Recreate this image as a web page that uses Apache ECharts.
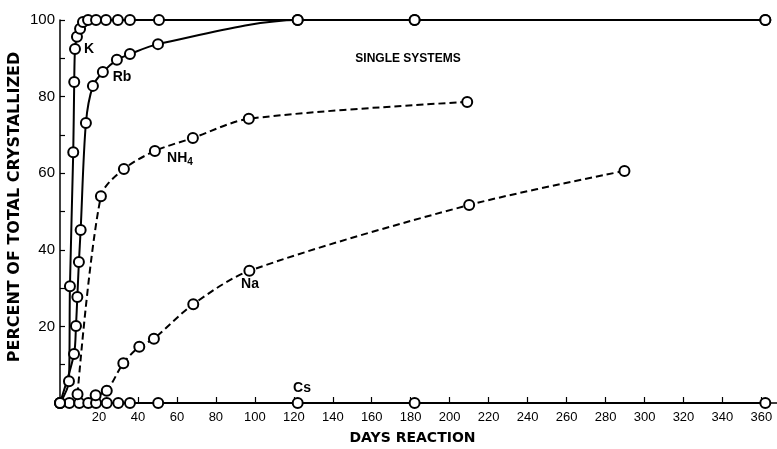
<!DOCTYPE html>
<html>
<head>
<meta charset="utf-8">
<script src="https://cdn.jsdelivr.net/npm/echarts@6/dist/echarts.min.js"></script>
<style>
  html, body { margin: 0; padding: 0; background: #fff; }
  #chart { width: 777px; height: 449px; }
</style>
</head>
<body>
<div id="chart"></div>
<script>
// 数据：读自原图（天数 / 结晶百分比）
const kDays = [0, 4.6, 5.1, 6.8, 7.3, 7.7, 8.7, 10.3, 11.8, 14.4, 18.5, 23.6, 29.7, 35.9, 50.8, 122, 182, 362];
const kPct = [0, 5.7, 30.5, 65.5, 83.8, 92.4, 95.6, 97.7, 99.5, 100, 100, 100, 100, 100, 100, 100, 100, 100];

// Rb 在 122 天后与 K 重合（圆点重叠）
const rbDays = [0, 7.2, 8.2, 8.9, 9.7, 10.6, 13.3, 16.9, 22, 29.2, 35.9, 50.3, 122, 182, 362];
const rbPct = [0, 12.8, 20.1, 27.7, 36.8, 45.2, 73.1, 82.8, 86.4, 89.6, 91.1, 93.7, 100, 100, 100];

const nh4Days = [9, 21, 32.8, 48.7, 68.2, 96.9, 209];
const nh4Pct = [2.3, 54, 61.1, 65.8, 69.2, 74.2, 78.6];

const naDays = [18.3, 24, 32.5, 40.7, 48.2, 68.4, 97.2, 210, 289.7];
const naPct = [2, 3.2, 10.4, 14.7, 16.8, 25.8, 34.5, 51.7, 60.6];

const csDays = [0, 4.8, 9.9, 14.5, 18.5, 24, 29.9, 35.9, 50.4, 122, 182, 362];
const csPct = [0, 0, 0, 0, 0, 0, 0, 0, 0, 0, 0, 0];

const FONT = '"Liberation Sans", Arial, sans-serif';
const NAME_FONT = '"DejaVu Sans", "Liberation Sans", sans-serif';

function pairs(xs, ys) {
    return xs.map((x, i) => [x, ys[i]]);
}

function makeSeries(name, xs, ys, dashed) {
    return {
        name: name,
        type: 'line',
        data: pairs(xs, ys),
        smooth: 0.3,
        symbol: 'emptyCircle',
        symbolSize: 10,
        lineStyle: {
            color: '#000',
            width: 2,
            type: dashed ? [7, 4] : 'solid'
        },
        itemStyle: {
            color: '#000',
            borderColor: '#000',
            borderWidth: 1.6
        },
        emphasis: { disabled: true },
        animation: false
    };
}

function label(text, x, y, size) {
    return {
        type: 'text',
        x: x,
        y: y,
        style: {
            text: text,
            font: 'bold ' + (size || 14) + 'px ' + FONT,
            fill: '#000',
            align: 'center',
            verticalAlign: 'middle'
        }
    };
}

const chart = echarts.init(document.getElementById('chart'));

const option = {
    backgroundColor: '#fff',
    animation: false,
    grid: {
        left: 60,
        right: 0,
        top: 20,
        bottom: 46,
        containLabel: false,
        outerBoundsMode: 'none'
    },
    xAxis: {
        type: 'value',
        min: 0,
        max: 368,
        interval: 20,
        name: 'DAYS REACTION',
        nameLocation: 'middle',
        nameGap: 28,
        nameTextStyle: {
            fontFamily: NAME_FONT,
            fontWeight: 'bold',
            fontSize: 14,
            color: '#000',
            padding: [0, 12, 0, 0]
        },
        axisLine: { lineStyle: { color: '#000', width: 1.5 } },
        axisTick: { inside: true, length: 6, lineStyle: { color: '#000', width: 1.2 } },
        axisLabel: {
            fontFamily: FONT,
            fontSize: 13,
            color: '#000',
            margin: 8,
            showMaxLabel: false,
            formatter: v => (v === 0 ? '' : v)
        },
        splitLine: { show: false }
    },
    yAxis: {
        type: 'value',
        min: 0,
        max: 100,
        interval: 20,
        axisLine: { show: true, lineStyle: { color: '#000', width: 1.5 } },
        axisTick: { show: true, inside: true, length: 5, lineStyle: { color: '#000', width: 1.2 } },
        minorTick: { show: true, splitNumber: 2, length: 5, lineStyle: { color: '#000', width: 1.2 } },
        axisLabel: {
            fontFamily: FONT,
            fontSize: 15,
            color: '#000',
            margin: 5,
            showMinLabel: false
        },
        splitLine: { show: false }
    },
    series: [
        makeSeries('Cs', csDays, csPct, false),
        makeSeries('Na', naDays, naPct, true),
        makeSeries('NH4', nh4Days, nh4Pct, true),
        makeSeries('Rb', rbDays, rbPct, false),
        makeSeries('K', kDays, kPct, false)
    ],
    graphic: [
        // 纵轴标题
        {
            type: 'text',
            x: 15,
            y: 207,
            rotation: Math.PI / 2,
            style: {
                text: 'PERCENT OF TOTAL CRYSTALLIZED',
                font: 'bold 16px ' + NAME_FONT,
                fill: '#000',
                align: 'center',
                verticalAlign: 'middle'
            }
        },
        label('K', 89, 49),
        label('Rb', 122, 77),
        {
            type: 'text',
            x: 180,
            y: 158,
            style: {
                text: 'NH{sub|4}',
                font: 'bold 14px ' + FONT,
                fill: '#000',
                align: 'center',
                verticalAlign: 'middle',
                rich: {
                    sub: { font: 'bold 10px ' + FONT, fill: '#000', padding: [8, 0, 0, 0] }
                }
            }
        },
        label('Na', 250, 284),
        label('Cs', 302, 388),
        label('SINGLE SYSTEMS', 408, 59, 12)
    ]
};

chart.setOption(option);
</script>
</body>
</html>
